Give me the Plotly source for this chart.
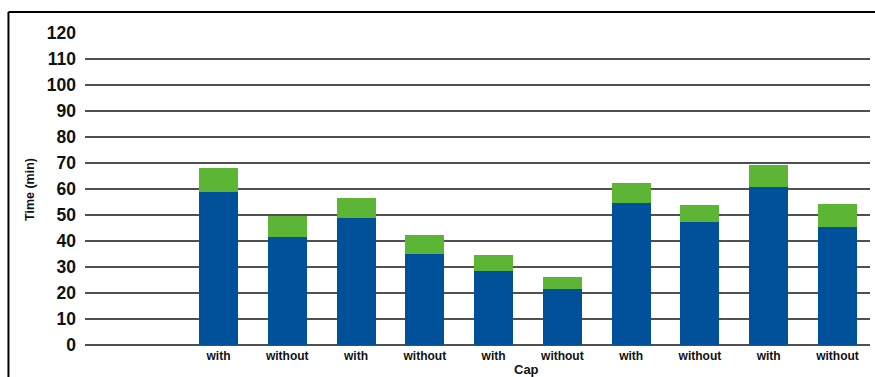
import plotly.graph_objects as go

# Bar positions and their cap labels
positions = [1, 2, 3, 4, 5, 6, 7, 8, 9, 10]
cap_labels = ["with", "without", "with", "without", "with",
              "without", "with", "without", "with", "without"]

# Stacked segments (minutes)
lower_segment = [58.8, 41.5, 48.8, 35.0, 28.5, 21.5, 54.6, 47.3, 60.8, 45.4]
upper_segment = [9.3, 8.2, 7.7, 7.3, 6.1, 4.7, 7.7, 6.5, 8.4, 8.8]

y_ticks = [0, 10, 20, 30, 40, 50, 60, 70, 80, 90, 100, 110, 120]

BLUE = "#00519A"
GREEN = "#5DB535"
FONT = "Liberation Sans, Arial, sans-serif"

fig = go.Figure()
fig.add_trace(go.Bar(x=positions, y=lower_segment, marker_color=BLUE,
                     marker_line_width=0, width=0.567, showlegend=False))
fig.add_trace(go.Bar(x=positions, y=upper_segment, marker_color=GREEN,
                     marker_line_width=0, width=0.567, showlegend=False))

fig.update_layout(
    width=875, height=377, autosize=False,
    margin=dict(l=85, r=5, t=33, b=32, pad=0),
    barmode="stack",
    plot_bgcolor="white", paper_bgcolor="white",
    font=dict(family=FONT, color="#111111"),
    xaxis=dict(
        range=[-0.941, 10.473],
        tickmode="array", tickvals=positions, ticktext=cap_labels,
        tickfont=dict(size=12, weight="bold", family=FONT, color="#111111"),
        showgrid=False, zeroline=False, showline=False, ticks="",
        ticklabelstandoff=2,
    ),
    yaxis=dict(
        range=[0, 120],
        tickmode="array", tickvals=y_ticks,
        tickfont=dict(size=17.5, weight="bold", family=FONT, color="#111111"),
        showgrid=True, gridcolor="#505050", gridwidth=1.7,
        zeroline=True, zerolinecolor="#505050", zerolinewidth=1.7,
        showline=False, ticks="", ticklabelstandoff=8,
    ),
    annotations=[
        dict(text="Time (min)", textangle=-90, xref="paper", yref="paper",
             x=-0.0701, y=0.5, xanchor="center", yanchor="middle",
             showarrow=False, font=dict(size=12.5, weight="bold", family=FONT)),
        dict(text="Cap", xref="paper", yref="paper",
             x=0.563, y=-0.080, xanchor="center", yanchor="middle",
             showarrow=False, font=dict(size=13, weight="bold", family=FONT)),
    ],
    shapes=[
        dict(type="line", xref="paper", yref="paper",
             x0=-0.0975, x1=1.02, y0=1.0673, y1=1.0673,
             line=dict(color="black", width=2)),
        dict(type="line", xref="paper", yref="paper",
             x0=-0.0975, x1=-0.0975, y0=1.0673, y1=-0.12,
             line=dict(color="black", width=2)),
    ],
)

fig.write_html("out.html")
